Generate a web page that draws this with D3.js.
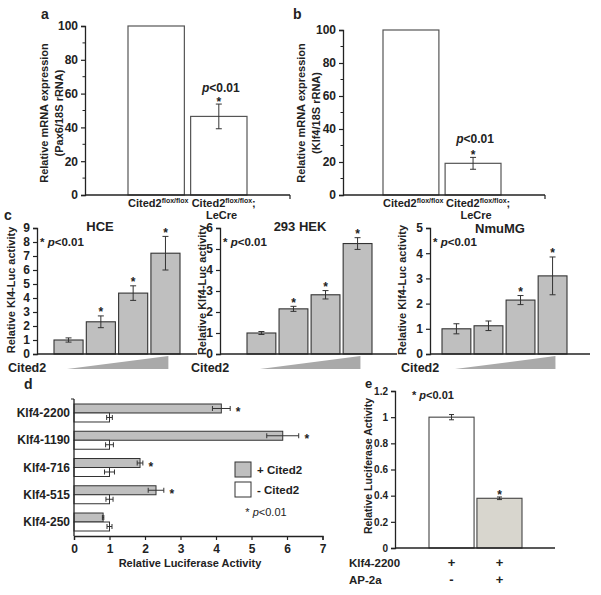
<!DOCTYPE html>
<html><head><meta charset="utf-8">
<script src="https://cdn.jsdelivr.net/npm/d3@7"></script>
<style>
body{margin:0;background:#fff;}
svg{font-family:"Liberation Sans",Arial,sans-serif;}
</style></head><body>
<svg id="fig" width="601" height="595"></svg>
<script>
// ---------- data ----------
const aCategories = ["flox", "cre"];
const aValues = [100, 46.5];
const aErrors = [0, 7.3];
const bValues = [100, 19.2];
const bErrors = [0, 3.6];
const mrnaTicks = [0, 20, 40, 60, 80, 100];
const mrnaMinor = [10, 30, 50, 70, 90];

const doseLevels = ["d1", "d2", "d3", "d4"];
const hceValues = [1.0, 2.3, 4.35, 7.2];
const hceErrors = [0.15, 0.42, 0.52, 1.2];
const hceSig = [0, 1, 1, 1];
const hceTicks = [0, 1, 2, 3, 4, 5, 6, 7, 8, 9];
const hekValues = [1.0, 2.15, 2.82, 5.26];
const hekErrors = [0.07, 0.12, 0.2, 0.28];
const hekSig = [0, 1, 1, 1];
const hekTicks = [0, 1, 2, 3, 4, 5, 6];
const nmuValues = [1.0, 1.12, 2.14, 3.1];
const nmuErrors = [0.2, 0.19, 0.18, 0.75];
const nmuSig = [0, 0, 1, 1];
const nmuTicks = [0, 1, 2, 3, 4, 5];

const dConstructs = ["Klf4-2200", "Klf4-1190", "Klf4-716", "Klf4-515", "Klf4-250"];
const dSeries = ["+ Cited2", "- Cited2"];
const dPlusValues = [4.15, 5.88, 1.86, 2.31, 0.82];
const dPlusErrors = [0.25, 0.45, 0.08, 0.22, 0.02];
const dMinusValues = [1, 1, 1, 1, 1];
const dMinusErrors = [0.08, 0.11, 0.14, 0.1, 0.07];
const dSig = [1, 1, 1, 1, 0];
const dTicks = [0, 1, 2, 3, 4, 5, 6, 7];

const eConditions = ["c1", "c2"];
const eValues = [1.0, 0.38];
const eErrors = [0.02, 0.01];
const eKlf4Row = ["+", "+"];
const eAp2Row = ["-", "+"];
const eTicks = [0, 0.2, 0.4, 0.6, 0.8, 1, 1.2];

// ---------- helpers ----------
const svg = d3.select("#fig");
const INK = "#222";
const GRAY = "#bfbfbf";

function txt(g, x, y, s, o = {}) {
  return g.append("text").attr("x", x).attr("y", y)
    .attr("font-size", o.size || 12).attr("font-weight", o.weight || "bold")
    .attr("text-anchor", o.anchor || "start").attr("fill", INK).text(s);
}
function pText(g, x, y, size, withStar, anchor, weight) {
  const t = g.append("text").attr("x", x).attr("y", y).attr("font-size", size)
    .attr("font-weight", weight || "bold").attr("fill", INK).attr("text-anchor", anchor || "start");
  if (withStar) t.append("tspan").text("* ");
  t.append("tspan").attr("font-style", "italic").text("p");
  t.append("tspan").text("<0.01");
  return t;
}
function vErr(g, x, y1, y2, cap) {
  g.append("line").attr("x1", x).attr("x2", x).attr("y1", y1).attr("y2", y2).attr("stroke", "#333").attr("stroke-width", 1);
  [y1, y2].forEach(y => g.append("line").attr("x1", x - cap).attr("x2", x + cap).attr("y1", y).attr("y2", y).attr("stroke", "#333").attr("stroke-width", 1));
}
function hErr(g, y, x1, x2, cap) {
  g.append("line").attr("y1", y).attr("y2", y).attr("x1", x1).attr("x2", x2).attr("stroke", "#333").attr("stroke-width", 1);
  [x1, x2].forEach(x => g.append("line").attr("y1", y - cap).attr("y2", y + cap).attr("x1", x).attr("x2", x).attr("stroke", "#333").attr("stroke-width", 1));
}
function yAxisDraw(g, ax, y, ticks, fmt, size, minor) {
  const a = g.append("g").attr("transform", `translate(${ax},0)`)
    .call(d3.axisLeft(y).tickValues(ticks).tickSize(4).tickPadding(3).tickFormat(fmt || (d => d)));
  a.select(".domain").attr("stroke", INK).attr("stroke-width", 1.3);
  a.selectAll(".tick line").attr("stroke", INK).attr("stroke-width", 1.2);
  a.selectAll("text").attr("font-size", size).attr("font-weight", "bold").attr("fill", INK).attr("font-family", "Liberation Sans, Arial, sans-serif");
  if (minor) {
    minor.forEach(v => g.append("line").attr("x1", ax - 2.5).attr("x2", ax).attr("y1", y(v)).attr("y2", y(v)).attr("stroke", INK));
  }
  return a;
}
function xLine(g, x1, x2, y, endTick) {
  g.append("line").attr("x1", x1).attr("x2", x2).attr("y1", y).attr("y2", y).attr("stroke", INK).attr("stroke-width", 1.3);
  if (endTick) g.append("line").attr("x1", x2).attr("x2", x2).attr("y1", y).attr("y2", y + 4).attr("stroke", INK).attr("stroke-width", 1.2);
}
function rotTitle(g, x, y, s, size) {
  g.append("text").attr("transform", `translate(${x},${y}) rotate(-90)`).attr("text-anchor", "middle")
    .attr("font-size", size).attr("font-weight", "bold").attr("fill", INK).text(s);
}
function floxLabel(g, x, y, semi) {
  const t = g.append("text").attr("x", x).attr("y", y).attr("font-size", 11).attr("font-weight", "bold").attr("fill", INK);
  t.append("tspan").text("Cited2");
  t.append("tspan").attr("font-size", 7).attr("dy", -4).text("flox/flox");
  if (semi) t.append("tspan").attr("dy", 4).text(";");
}

// ---------- panels a & b ----------
function mrnaPanel(o) {
  const g = svg.append("g");
  const y = d3.scaleLinear().domain([0, 100]).range([195, o.yTop]);
  const x = d3.scaleBand().domain(aCategories).range(o.band).paddingInner(0.1);
  g.selectAll("rect.bar").data(o.values).enter().append("rect")
    .attr("x", (d, i) => x(aCategories[i])).attr("width", x.bandwidth())
    .attr("y", d => y(d)).attr("height", d => y(0) - y(d))
    .attr("fill", "#fff").attr("stroke", "#555").attr("stroke-width", 1.2);
  o.values.forEach((v, i) => {
    if (o.errors[i] > 0) {
      const cx = x(aCategories[i]) + x.bandwidth() / 2;
      vErr(g, cx, y(v + o.errors[i]), y(v - o.errors[i]), 3);
      txt(g, cx, y(v + o.errors[i]) + 1.5, "*", { size: 12, anchor: "middle" });
      pText(g, cx + 2, y(v + o.errors[i]) - o.pOff, 12, false, "middle");
    }
  });
  yAxisDraw(g, o.ax, y, mrnaTicks, null, 12, mrnaMinor);
  xLine(g, o.ax, o.xEnd, 195, true);
  txt(g, o.lx, 19, o.letter, { size: 14 });
  rotTitle(g, o.t1, 113, "Relative mRNA expression", 11);
  rotTitle(g, o.t1 + 15, 113, o.sub, 11);
  floxLabel(g, x(aCategories[0]), 207, false);
  floxLabel(g, x(aCategories[1]) + 1, 207, true);
  txt(g, x(aCategories[1]) + 31, 219, "LeCre", { size: 11, anchor: "middle" });
}
mrnaPanel({ yTop: 26, band: [128, 247], values: aValues, errors: aErrors, ax: 85, xEnd: 290, lx: 41, letter: "a", t1: 48, sub: "(Pax6/18S rRNA)", pOff: 12.5 });
mrnaPanel({ yTop: 30, band: [383, 501], values: bValues, errors: bErrors, ax: 343, xEnd: 545, lx: 293, letter: "b", t1: 305, sub: "(Klf4/18S rRNA)", pOff: 14 });

// ---------- panel c ----------
function dosePanel(o) {
  const g = svg.append("g");
  const y = d3.scaleLinear().domain([0, o.max]).range([354, 228]);
  const x = d3.scaleBand().domain(doseLevels).range(o.band).paddingInner(0.1);
  g.selectAll("rect.bar").data(o.values).enter().append("rect")
    .attr("x", (d, i) => x(doseLevels[i])).attr("width", x.bandwidth())
    .attr("y", d => y(d)).attr("height", d => y(0) - y(d))
    .attr("fill", GRAY).attr("stroke", "#333").attr("stroke-width", 1.1);
  o.values.forEach((v, i) => {
    const cx = x(doseLevels[i]) + x.bandwidth() / 2;
    vErr(g, cx, y(v + o.errors[i]), y(v - o.errors[i]), 3);
    if (o.sig[i]) txt(g, cx, y(v + o.errors[i]) + 0.5, "*", { size: 12, anchor: "middle" });
  });
  yAxisDraw(g, o.ax, y, o.ticks, null, 12);
  xLine(g, o.ax, o.xEnd, 354, false);
  txt(g, o.titleX, o.titleY || 231, o.title, { size: 13, anchor: "middle" });
  pText(g, o.ax + 3, 246, 11.5, true);
  rotTitle(g, o.tx, 290, o.ytitle, 11);
  // increasing-dose wedge
  const x0 = x(doseLevels[0]) + x.bandwidth() * 0.45, x1 = x(doseLevels[3]) + x.bandwidth() * 0.6;
  g.append("path").attr("d", `M${x0},369 L${x1},356 L${x1},369 Z`).attr("fill", "#a9a9a9");
  txt(g, o.ax - 29, 372, "Cited2", { size: 12.5 });
}
dosePanel({ max: 9, band: [54, 180], values: hceValues, errors: hceErrors, sig: hceSig, ticks: hceTicks, ax: 37, xEnd: 197, title: "HCE", titleX: 100, tx: 15, ytitle: "Relative Kl4-Luc activity" });
dosePanel({ max: 6, band: [247, 372], values: hekValues, errors: hekErrors, sig: hekSig, ticks: hekTicks, ax: 220, xEnd: 397, title: "293 HEK", titleX: 300, tx: 206, ytitle: "Relative Klf4-Luc activity" });
dosePanel({ max: 5, band: [442, 567], values: nmuValues, errors: nmuErrors, sig: nmuSig, ticks: nmuTicks, ax: 430, xEnd: 590, title: "NmuMG", titleX: 500, titleY: 233, tx: 406, ytitle: "Relative Klf4-Luc activity" });
svg.append("text").attr("x", 4).attr("y", 220).attr("font-size", 14).attr("font-weight", "bold").attr("fill", INK).text("c");

// ---------- panel d ----------
(function () {
  const g = svg.append("g");
  const x = d3.scaleLinear().domain([0, 7]).range([74, 322.5]);
  const y = d3.scaleBand().domain(dConstructs).range([404, 531]).paddingInner(0.34);
  const ys = d3.scaleBand().domain(dSeries).range([0, y.bandwidth()]);
  const series = [
    { key: dSeries[0], vals: dPlusValues, errs: dPlusErrors, fill: GRAY },
    { key: dSeries[1], vals: dMinusValues, errs: dMinusErrors, fill: "#fff" }
  ];
  series.forEach(s => {
    dConstructs.forEach((c, i) => {
      const yy = y(c) + ys(s.key);
      g.append("rect").attr("x", x(0)).attr("y", yy).attr("width", x(s.vals[i]) - x(0)).attr("height", ys.bandwidth())
        .attr("fill", s.fill).attr("stroke", "#333").attr("stroke-width", 1);
      hErr(g, yy + ys.bandwidth() / 2, x(s.vals[i] - s.errs[i]), x(s.vals[i] + s.errs[i]), 2.5);
    });
  });
  dConstructs.forEach((c, i) => {
    if (dSig[i]) txt(g, x(dPlusValues[i] + dPlusErrors[i]) + 8, y(c) + ys(dSeries[0]) + ys.bandwidth() / 2 + 7.5, "*", { size: 12, anchor: "middle" });
    txt(g, 70, y(c) + y.bandwidth() / 2 + 4, c, { size: 12, anchor: "end" });
  });
  // y axis
  g.append("line").attr("x1", 74).attr("x2", 74).attr("y1", 399).attr("y2", 536).attr("stroke", INK).attr("stroke-width", 1.3);
  g.append("line").attr("x1", 71).attr("x2", 74).attr("y1", 399).attr("y2", 399).attr("stroke", INK);
  // x axis
  const ax = g.append("g").attr("transform", "translate(0,536)")
    .call(d3.axisBottom(x).tickValues(dTicks).tickSize(4).tickPadding(4).tickFormat(d => d));
  ax.select(".domain").attr("stroke", INK).attr("stroke-width", 1.3);
  ax.selectAll(".tick line").attr("stroke", INK).attr("stroke-width", 1.2);
  ax.selectAll("text").attr("font-size", 12).attr("font-weight", "bold").attr("fill", INK).attr("font-family", "Liberation Sans, Arial, sans-serif");
  txt(g, 190, 567, "Relative Luciferase Activity", { size: 11, anchor: "middle" });
  txt(g, 24, 389, "d", { size: 14 });
  // legend
  series.forEach((s, i) => {
    g.append("rect").attr("x", 235).attr("y", 462 + i * 20).attr("width", 16).attr("height", 15)
      .attr("fill", s.fill).attr("stroke", "#333").attr("stroke-width", 1);
    txt(g, 257, 474 + i * 20, s.key, { size: 11.5 });
  });
  pText(g, 266, 516, 11, true, "middle", "normal");
})();

// ---------- panel e ----------
(function () {
  const g = svg.append("g");
  const y = d3.scaleLinear().domain([0, 1.2]).range([548, 391]);
  const x = d3.scaleBand().domain(eConditions).range([429, 522]).paddingInner(0.06);
  const fills = ["#fff", "#d8d6ce"];
  g.selectAll("rect.bar").data(eValues).enter().append("rect")
    .attr("x", (d, i) => x(eConditions[i])).attr("width", x.bandwidth())
    .attr("y", d => y(d)).attr("height", d => y(0) - y(d))
    .attr("fill", (d, i) => fills[i]).attr("stroke", "#444").attr("stroke-width", 1.1);
  eValues.forEach((v, i) => {
    const cx = x(eConditions[i]) + x.bandwidth() / 2;
    vErr(g, cx, y(v + eErrors[i]), y(v - eErrors[i]), 2.5);
    txt(g, cx, 567, eKlf4Row[i], { size: 13, anchor: "middle" });
    txt(g, cx, 584, eAp2Row[i], { size: 13, anchor: "middle" });
  });
  txt(g, x(eConditions[1]) + x.bandwidth() / 2, y(eValues[1] + eErrors[1]) + 2, "*", { size: 12, anchor: "middle" });
  yAxisDraw(g, 395, y, eTicks, d => d, 10);
  xLine(g, 395, 555, 548, false);
  rotTitle(g, 372, 466, "Relative Luciferase Activity", 10.5);
  pText(g, 412, 399, 11, true);
  txt(g, 365, 388, "e", { size: 13 });
  txt(g, 349, 567, "Klf4-2200", { size: 11.5 });
  txt(g, 349, 584, "AP-2a", { size: 11.5 });
})();
</script>
</body></html>
